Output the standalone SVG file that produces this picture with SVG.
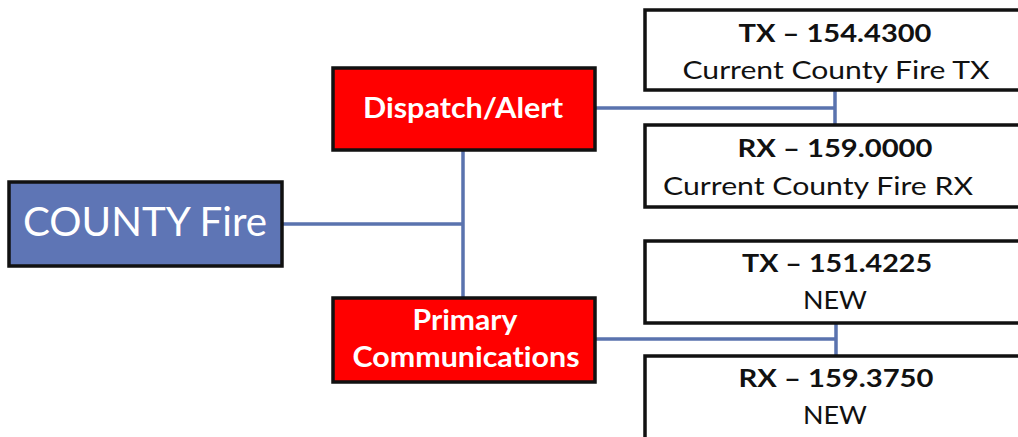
<svg xmlns="http://www.w3.org/2000/svg" width="1018" height="437" viewBox="0 0 1018 437">
<style>
.box{stroke:#111;stroke-width:3.5}
.blue{fill:#5E75B5}
.red{fill:#FF0000}
.white{fill:#FFFFFF}
.conn{stroke:#5A73AE;stroke-width:3.5;fill:none}
text{font-family:Lato,"Open Sans","Liberation Sans",sans-serif;text-anchor:middle;font-variant-ligatures:none}
.wt{fill:#FFFFFF}
.bt{fill:#111111}
.b{font-weight:bold}
</style>
<rect width="1018" height="437" fill="#FFFFFF"/>
<g id="connectors">
<path class="conn" d="M283 224 H463 M463 150 V298"/>
<path class="conn" d="M595 108 H835 M835 90 V125"/>
<path class="conn" d="M595 339 H836 M836 323 V356"/>
</g>
<g id="county-fire">
<rect class="box blue" x="9" y="182" width="273" height="84"/>
<text class="wt" x="145" y="236" font-size="41" textLength="244" lengthAdjust="spacingAndGlyphs">COUNTY Fire</text>
</g>
<g id="dispatch-alert">
<rect class="box red" x="333" y="68" width="262" height="82"/>
<text class="wt b" x="463" y="118" font-size="28" textLength="200" lengthAdjust="spacingAndGlyphs">Dispatch/Alert</text>
</g>
<g id="primary-communications">
<rect class="box red" x="333" y="298" width="262" height="84"/>
<text class="wt b" x="465" y="330" font-size="28" textLength="105" lengthAdjust="spacingAndGlyphs">Primary</text>
<text class="wt b" x="466" y="367" font-size="28" textLength="227" lengthAdjust="spacingAndGlyphs">Communications</text>
</g>
<g id="tx-154">
<rect class="box white" x="645" y="10" width="390" height="80"/>
<text class="bt b" x="835" y="42" font-size="24" textLength="193" lengthAdjust="spacingAndGlyphs">TX – 154.4300</text>
<text class="bt" x="836" y="79" font-size="25" textLength="307" lengthAdjust="spacingAndGlyphs">Current County Fire TX</text>
</g>
<g id="rx-159-0000">
<rect class="box white" x="645" y="125" width="390" height="82"/>
<text class="bt b" x="835" y="157" font-size="24" textLength="195" lengthAdjust="spacingAndGlyphs">RX – 159.0000</text>
<text class="bt" x="818" y="195" font-size="25" textLength="310" lengthAdjust="spacingAndGlyphs">Current County Fire RX</text>
</g>
<g id="tx-151">
<rect class="box white" x="645" y="241" width="390" height="82"/>
<text class="bt b" x="837" y="272" font-size="24" textLength="190" lengthAdjust="spacingAndGlyphs">TX – 151.4225</text>
<text class="bt" x="835" y="309" font-size="25" textLength="64" lengthAdjust="spacingAndGlyphs">NEW</text>
</g>
<g id="rx-159-3750">
<rect class="box white" x="645" y="356" width="390" height="100"/>
<text class="bt b" x="836" y="387" font-size="24" textLength="195" lengthAdjust="spacingAndGlyphs">RX – 159.3750</text>
<text class="bt" x="835" y="424" font-size="25" textLength="64" lengthAdjust="spacingAndGlyphs">NEW</text>
</g>
</svg>
